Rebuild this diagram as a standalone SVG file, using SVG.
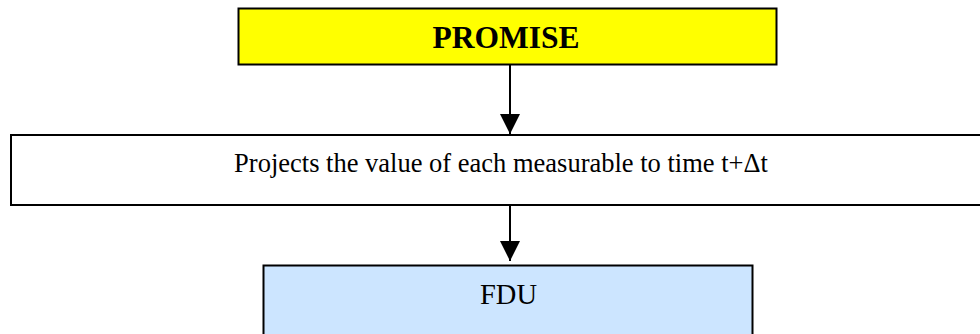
<svg xmlns="http://www.w3.org/2000/svg" width="980" height="334" viewBox="0 0 980 334">
  <style>
    .box { stroke: #000; stroke-width: 2; }
    .lbl { font-family: "Liberation Serif", "Times New Roman", serif; fill: #000; text-anchor: middle; }
    .wire { stroke: #000; stroke-width: 2; fill: none; }
  </style>
  <defs>
    <marker id="arrow" viewBox="0 0 20 20" refX="20" refY="10" markerWidth="20" markerHeight="20" markerUnits="userSpaceOnUse" orient="auto">
      <path d="M0,0 L20,10 L0,20 Z" fill="#000"/>
    </marker>
  </defs>
  <rect width="980" height="334" fill="#fff"/>

  <g id="promise">
    <rect class="box" x="238.5" y="8.5" width="538" height="56" fill="#ffff00"/>
    <text class="lbl" x="506" y="48" font-size="31.5" font-weight="bold">PROMISE</text>
  </g>

  <g id="projects">
    <rect class="box" x="11" y="135" width="980" height="70" fill="#fff"/>
    <text class="lbl" x="501" y="172" font-size="26.5">Projects the value of each measurable to time t+Δt</text>
  </g>

  <g id="fdu">
    <rect class="box" x="263.5" y="265.5" width="489" height="90" fill="#cce5ff"/>
    <text class="lbl" x="508.5" y="304" font-size="28.5">FDU</text>
  </g>

  <g id="connectors">
    <line class="wire" x1="510" y1="65" x2="510" y2="134" marker-end="url(#arrow)"/>
    <line class="wire" x1="510" y1="205" x2="510" y2="261" marker-end="url(#arrow)"/>
  </g>
</svg>
